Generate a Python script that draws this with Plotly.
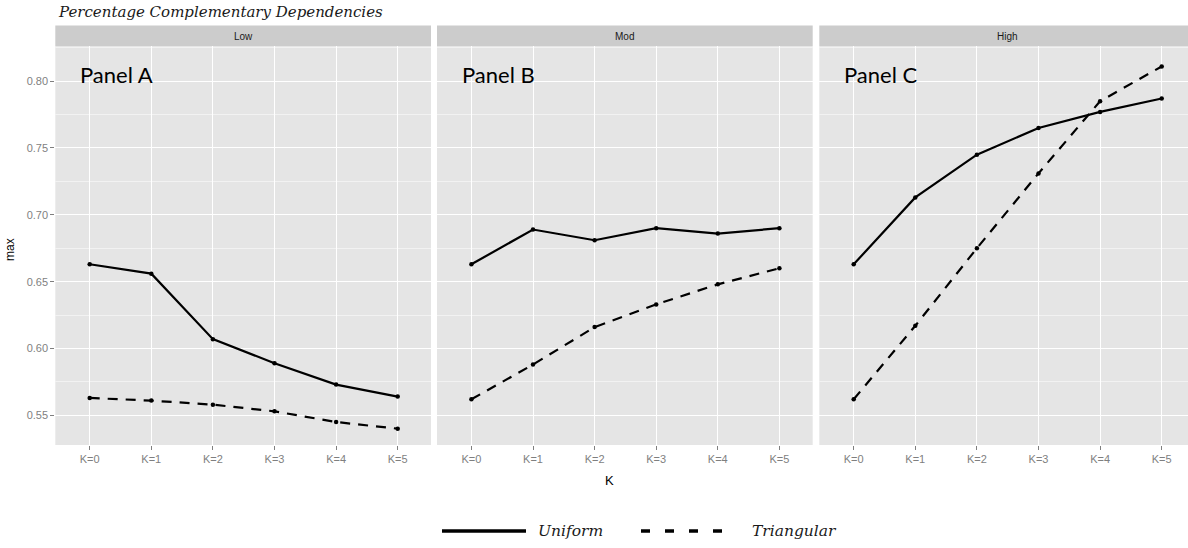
import plotly.graph_objects as go

categories = ["K=0", "K=1", "K=2", "K=3", "K=4", "K=5"]
panels = ["Low", "Mod", "High"]
panel_labels = ["Panel A", "Panel B", "Panel C"]

uniform_low = [0.663, 0.656, 0.607, 0.589, 0.573, 0.564]
triangular_low = [0.563, 0.561, 0.558, 0.553, 0.545, 0.540]
uniform_mod = [0.663, 0.689, 0.681, 0.690, 0.686, 0.690]
triangular_mod = [0.562, 0.588, 0.616, 0.633, 0.648, 0.660]
uniform_high = [0.663, 0.713, 0.745, 0.765, 0.777, 0.787]
triangular_high = [0.562, 0.617, 0.675, 0.731, 0.785, 0.811]

uniform = [uniform_low, uniform_mod, uniform_high]
triangular = [triangular_low, triangular_mod, triangular_high]

W, H = 1188, 548
def px(x):
    return x / W
def py(y):
    return 1 - y / H

panel_px = [(55.3, 431.0), (437.0, 812.7), (819.3, 1188.0)]
unit = 61.6
left_pad = 34.4
plot_top, plot_bot = 46.0, 445.0
strip_top = 25.5

fig = go.Figure()

for i in range(3):
    ax = "" if i == 0 else str(i + 1)
    fig.add_trace(go.Scatter(
        x=categories, y=uniform[i], mode="lines+markers",
        line=dict(color="black", width=2.2),
        marker=dict(color="black", size=4.5),
        xaxis="x" + ax, yaxis="y" + ax, showlegend=False, name="Uniform"))
    fig.add_trace(go.Scatter(
        x=categories, y=triangular[i], mode="lines+markers",
        line=dict(color="black", width=2.2, dash="10px,8px"),
        marker=dict(color="black", size=4.5),
        xaxis="x" + ax, yaxis="y" + ax, showlegend=False, name="Triangular"))

layout = dict(
    width=W, height=H,
    margin=dict(l=0, r=0, t=0, b=0),
    paper_bgcolor="white",
    plot_bgcolor="#E5E5E5",
    showlegend=False,
)

tickfont = dict(family="Liberation Sans, Arial", size=11, color="#7F7F7F")

for i in range(3):
    x0, x1 = panel_px[i]
    r0 = -left_pad / unit
    r1 = r0 + (x1 - x0) / unit
    key = "" if i == 0 else str(i + 1)
    layout["xaxis" + key] = dict(
        domain=[px(x0), px(x1)], anchor="y" + key,
        type="category", categoryorder="array", categoryarray=categories,
        range=[r0, r1],
        showgrid=True, gridcolor="white", gridwidth=1.3,
        ticks="outside", ticklen=4, tickcolor="#7F7F7F", tickwidth=1,
        tickfont=tickfont, showline=False, zeroline=False,
    )
    layout["yaxis" + key] = dict(
        domain=[py(plot_bot), py(plot_top)], anchor="x" + key,
        range=[0.5278, 0.8263],
        tickmode="array", tickvals=[0.55, 0.60, 0.65, 0.70, 0.75, 0.80],
        ticktext=["0.55", "0.60", "0.65", "0.70", "0.75", "0.80"],
        showticklabels=(i == 0),
        ticks="outside" if i == 0 else "", ticklen=4, tickcolor="#7F7F7F",
        tickfont=tickfont,
        showgrid=True, gridcolor="white", gridwidth=1.3,
        minor=dict(tickmode="array", tickvals=[0.575, 0.625, 0.675, 0.725, 0.775, 0.825],
                   showgrid=True, gridcolor="#F2F2F2", gridwidth=1, ticks=""),
        zeroline=False, showline=False,
    )

fig.update_layout(**layout)

shapes = []
annotations = []
for i in range(3):
    x0, x1 = panel_px[i]
    shapes.append(dict(type="rect", xref="paper", yref="paper",
                       x0=px(x0), x1=px(x1), y0=py(plot_top), y1=py(strip_top),
                       fillcolor="#CCCCCC", line=dict(width=0), layer="below"))
    center = x0 + 375.7 / 2
    annotations.append(dict(text=panels[i], xref="paper", yref="paper",
                            x=px(center), y=py(36), xanchor="center", yanchor="middle",
                            showarrow=False,
                            font=dict(family="Liberation Sans, Arial", size=10, color="#1A1A1A")))
    annotations.append(dict(text=panel_labels[i], xref="paper", yref="paper",
                            x=px(x0 + 23), y=py(75), xanchor="left", yanchor="middle",
                            showarrow=False,
                            font=dict(family="Lato", size=22, color="black")))

annotations.append(dict(text="<i>Percentage Complementary Dependencies</i>", xref="paper", yref="paper",
                        x=px(56), y=py(12), xanchor="left", yanchor="middle", showarrow=False,
                        font=dict(family="DejaVu Serif", size=15, color="#1A1A1A")))
annotations.append(dict(text="K", xref="paper", yref="paper",
                        x=px(609), y=py(480), xanchor="center", yanchor="middle", showarrow=False,
                        font=dict(family="Liberation Sans, Arial", size=13, color="black")))
annotations.append(dict(text="max", xref="paper", yref="paper", textangle=-90,
                        x=px(10), y=py(250), xanchor="center", yanchor="middle", showarrow=False,
                        font=dict(family="Liberation Sans, Arial", size=12, color="black")))

# legend
ly = 531
shapes.append(dict(type="line", xref="paper", yref="paper", x0=px(442), x1=px(526),
                   y0=py(ly), y1=py(ly), line=dict(color="black", width=3.5)))
shapes.append(dict(type="line", xref="paper", yref="paper", x0=px(641), x1=px(725),
                   y0=py(ly), y1=py(ly), line=dict(color="black", width=3.5, dash="9px,15px")))
annotations.append(dict(text="<i>Uniform</i>", xref="paper", yref="paper",
                        x=px(536), y=py(ly), xanchor="left", yanchor="middle", showarrow=False,
                        font=dict(family="DejaVu Serif", size=15.5, color="#1A1A1A")))
annotations.append(dict(text="<i>Triangular</i>", xref="paper", yref="paper",
                        x=px(750), y=py(ly), xanchor="left", yanchor="middle", showarrow=False,
                        font=dict(family="DejaVu Serif", size=15.5, color="#1A1A1A")))

fig.update_layout(shapes=shapes, annotations=annotations)
fig.write_html("out.html")
